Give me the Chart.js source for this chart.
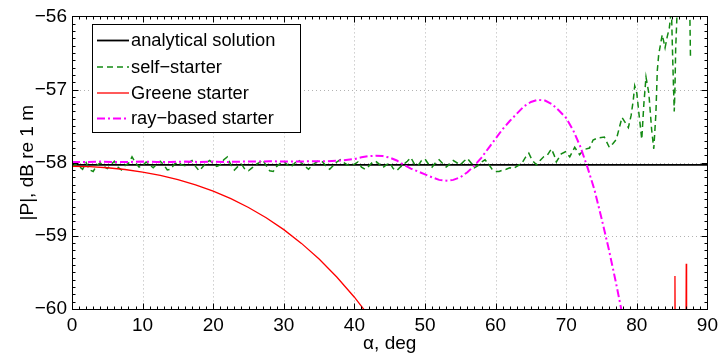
<!DOCTYPE html>
<html>
<head>
<meta charset="utf-8">
<script src="https://cdn.jsdelivr.net/npm/chart.js@4/dist/chart.umd.min.js"></script>
<style>
  html, body { margin: 0; padding: 0; background: #fff; }
  #wrap { width: 723px; height: 355px; }
</style>
</head>
<body>
<div id="wrap"><canvas id="chart" width="723" height="355"></canvas></div>
<script>
const FONT = '"Liberation Sans", Arial, Helvetica, sans-serif';

// axis ticks
const xTicks = [0, 10, 20, 30, 40, 50, 60, 70, 80, 90];
const yTicks = [-60, -59, -58, -57, -56];

// analytical solution (flat)
const analyticalX = [0, 90];
const analyticalY = [-58.03, -58.03];

// self-starter (noisy, blows up near grazing)
const selfX = [
  0, 0.5, 1, 1.5, 2, 2.5, 3, 3.5, 4, 4.5, 5, 5.5, 6, 6.5, 7, 7.5, 8, 8.5, 9, 9.5,
  10, 10.5, 11, 11.5, 12, 12.5, 13, 13.5, 14, 14.5, 15, 15.5, 16, 16.5, 17, 17.5, 18, 18.5, 19, 19.5,
  20, 20.5, 21, 21.5, 22, 22.5, 23, 23.5, 24, 24.5, 25, 25.5, 26, 26.5, 27, 27.5, 28, 28.5, 29, 29.5,
  30, 30.5, 31, 31.5, 32, 32.5, 33, 33.5, 34, 34.5, 35, 35.5, 36, 36.5, 37, 37.5, 38, 38.5, 39, 39.5,
  40, 40.5, 41, 41.5, 42, 42.5, 43, 43.5, 44, 44.5, 45, 45.5, 46, 46.5, 47, 47.5, 48, 48.5, 49, 49.5,
  50, 50.5, 51, 51.5, 52, 52.5, 53, 53.5, 54, 54.5, 55, 55.5, 56, 56.5, 57, 57.5, 58, 58.5, 59, 59.5,
  60, 60.5, 61, 61.5, 62, 62.5, 63, 63.7, 64.2, 64.7, 65.2, 65.8, 66.3, 66.8, 67.3, 67.9, 68.3, 68.6,
  69.3, 69.9, 70.5, 71.2, 71.9, 72.5, 73.3, 73.8, 74.5, 75.4, 76.1, 76.6, 77.1, 77.9, 78.8, 79.2,
  79.5, 79.7, 80.0, 80.3, 80.7, 81.0, 81.3, 81.7, 82.1, 82.4, 82.7, 82.9, 83.1, 83.6, 84.0, 84.3,
  84.6, 84.9, 85.1, 85.3, 85.4, 85.5, 85.7, 86.0, 86.5, 87.0, 87.5, 87.6
];
const selfY = [
  -58.06, -58.02, -58.05, -58.09, -58.00, -58.10, -58.12, -58.04, -58.00, -58.05,
  -58.08, -58.03, -57.98, -58.06, -58.10, -58.04, -58.01, -57.92, -58.00, -58.06,
  -58.04, -57.99, -58.03, -58.07, -58.02, -57.98, -58.03, -58.10, -58.09, -58.02,
  -57.99, -58.03, -58.04, -58.00, -57.97, -58.05, -58.11, -58.06, -58.00, -57.97,
  -58.01, -58.05, -58.03, -57.96, -57.92, -58.03, -58.10, -58.05, -58.02, -58.09,
  -58.11, -58.07, -58.03, -58.00, -57.96, -58.04, -58.11, -58.12, -58.05, -58.01,
  -57.98, -58.03, -58.06, -58.01, -57.96, -58.00, -58.05, -58.09, -58.04, -58.00,
  -57.97, -57.99, -58.05, -58.09, -58.04, -57.99, -57.96, -58.00, -58.03, -58.04,
  -58.02, -57.99, -58.06, -58.09, -58.05, -58.00, -57.98, -58.02, -58.07, -58.03,
  -58.00, -58.08, -58.11, -58.06, -58.02, -57.98, -57.93, -58.02, -58.04, -57.97,
  -57.95, -58.02, -58.06, -58.00, -57.96, -58.01, -58.06, -58.02, -57.97, -58.00,
  -58.03, -57.98, -57.94, -58.00, -58.07, -58.04, -57.99, -57.96, -58.02, -58.09,
  -58.12, -58.12, -58.10, -58.09, -58.07, -58.08, -58.05, -58.01, -57.93, -57.87,
  -57.97, -58.03, -57.97, -57.92, -57.90, -57.81, -57.90, -57.99,
  -57.88, -57.85, -57.92, -57.79, -57.89, -57.82, -57.80, -57.69, -57.66, -57.65,
  -57.79, -57.74, -57.68, -57.38, -57.52, -57.35,
  -57.14, -56.95, -57.05, -57.33, -57.68, -57.19, -56.83, -57.05, -57.55, -57.81,
  -57.33, -56.74, -56.52, -56.25, -56.43, -56.28,
  -56.16, -55.90, -56.65, -57.30, -57.00, -56.45, -55.95, -55.50, -55.40, -55.60, -55.90, -56.57
];

// Greene starter (falls off, plus two spikes near 85-87 deg)
const greeneX = [
  0, 2.5, 5, 7.5, 10, 12.5, 15, 17.5, 20, 22.5, 25, 27.5, 30, 32.5, 35, 37.5, 40, 42.5,
  45, 85.35, 85.4, 85.45, 86.95, 87.0, 87.05
];
const greeneY = [
  -58.05, -58.055, -58.069, -58.093, -58.128, -58.174, -58.232, -58.304, -58.39, -58.492,
  -58.612, -58.753, -58.915, -59.103, -59.317, -59.562, -59.839, -60.15,
  null, -60.5, -59.55, -60.5, -60.5, -59.38, -60.5
];

// ray-based starter
const rayX = [
  0, 2, 4, 6, 8, 10, 12, 14, 16, 18, 20, 22, 24, 26, 28, 30, 32, 34, 36, 38,
  40, 41, 42, 43, 44, 45, 46, 47, 48, 49, 50, 51, 52, 53, 54, 55, 56, 57, 58, 59,
  60, 61, 62, 63, 64, 65, 66, 67, 68, 69, 70, 71, 72, 73, 74, 75, 76, 77, 78
];
const rayY = [
  -57.99, -57.99, -57.985, -57.99, -57.99, -57.985, -57.99, -57.99, -57.985, -57.99,
  -57.985, -57.99, -57.985, -57.985, -57.98, -57.985, -57.985, -57.98, -57.98, -57.97,
  -57.95, -57.925, -57.91, -57.905, -57.91, -57.93, -57.97, -58.03, -58.08, -58.12,
  -58.16, -58.2, -58.235, -58.245, -58.235, -58.2, -58.13, -58.04, -57.93, -57.8,
  -57.67, -57.54, -57.43, -57.33, -57.23, -57.17, -57.14, -57.15, -57.2, -57.29,
  -57.39, -57.56, -57.78, -58.06, -58.37, -58.76, -59.17, -59.62, -60.1
];

const pts = (xs, ys) => xs.map((x, i) => ({ x: x, y: ys[i] }));

const datasets = [
  {
    label: 'analytical solution',
    data: pts(analyticalX, analyticalY),
    borderColor: '#000000',
    borderWidth: 1.8,
    order: 3,
  },
  {
    label: 'self\u2212starter',
    data: pts(selfX, selfY),
    borderColor: '#138a13',
    borderWidth: 1.5,
    borderDash: [6, 4],
    order: 2,
  },
  {
    label: 'Greene starter',
    data: pts(greeneX, greeneY),
    borderColor: '#ff0000',
    borderWidth: 1.3,
    order: 1,
  },
  {
    label: 'ray\u2212based starter',
    data: pts(rayX, rayY),
    borderColor: '#ff00ff',
    borderWidth: 2,
    borderDash: [8, 3, 2, 3],
    order: 0,
  },
];
datasets.forEach((d) => {
  d.pointRadius = 0;
  d.tension = 0;
  d.spanGaps = false;
  d.fill = false;
});

// dotted grid, box, inward ticks and the boxed legend, matlab style
const matlabAxes = {
  id: 'matlabAxes',
  beforeDatasetsDraw(chart) {
    const { ctx, chartArea: a, scales } = chart;
    ctx.save();
    ctx.strokeStyle = 'rgba(0,0,0,0.3)';
    ctx.lineWidth = 1;
    ctx.setLineDash([1, 3]);
    xTicks.slice(1, -1).forEach((v) => {
      const px = Math.round(scales.x.getPixelForValue(v)) + 0.5;
      ctx.beginPath();
      ctx.moveTo(px, a.top);
      ctx.lineTo(px, a.bottom);
      ctx.stroke();
    });
    yTicks.slice(1, -1).forEach((v) => {
      const py = Math.round(scales.y.getPixelForValue(v)) + 0.5;
      ctx.beginPath();
      ctx.moveTo(a.left, py);
      ctx.lineTo(a.right, py);
      ctx.stroke();
    });
    ctx.restore();
  },
  afterDraw(chart) {
    const { ctx, chartArea: a, scales } = chart;
    const L = Math.round(a.left) + 0.5, R = Math.round(a.right) + 0.5;
    const T = Math.round(a.top) + 0.5, B = Math.round(a.bottom) + 0.5;
    ctx.save();
    ctx.strokeStyle = '#000';
    ctx.lineWidth = 1;
    ctx.setLineDash([]);
    ctx.strokeRect(L, T, R - L, B - T);

    ctx.beginPath();
    // minor x ticks every degree, major every 10
    for (let v = 0; v <= 90; v++) {
      const px = Math.round(scales.x.getPixelForValue(v)) + 0.5;
      const len = v % 10 === 0 ? 6 : 3;
      ctx.moveTo(px, B); ctx.lineTo(px, B - len);
      ctx.moveTo(px, T); ctx.lineTo(px, T + len);
    }
    // minor y ticks every 0.1 dB
    for (let k = 0; k <= 40; k++) {
      const v = -60 + k / 10;
      const py = Math.round(scales.y.getPixelForValue(v)) + 0.5;
      const len = k % 10 === 0 ? 6 : 3;
      ctx.moveTo(L, py); ctx.lineTo(L + len, py);
      ctx.moveTo(R, py); ctx.lineTo(R - len, py);
    }
    ctx.stroke();

    // legend
    const bx = 92.5, by = 24.5, bw = 208, bh = 108;
    ctx.fillStyle = '#fff';
    ctx.fillRect(bx, by, bw, bh);
    ctx.strokeRect(bx, by, bw, bh);
    const rows = [40, 66.5, 92.5, 118];
    ctx.font = '18.3px ' + FONT;
    ctx.textBaseline = 'middle';
    ctx.textAlign = 'left';
    chart.data.datasets.forEach((d, i) => {
      const y = rows[i] + 0.5;
      ctx.save();
      ctx.strokeStyle = d.borderColor;
      ctx.lineWidth = d.borderWidth;
      ctx.setLineDash(d.borderDash || []);
      ctx.beginPath();
      ctx.moveTo(97, y);
      ctx.lineTo(129, y);
      ctx.stroke();
      ctx.restore();
      ctx.fillStyle = '#000';
      ctx.fillText(d.label, 131, rows[i] + 1);
    });
    ctx.restore();
  },
};

new Chart(document.getElementById('chart'), {
  type: 'line',
  data: { datasets: datasets },
  plugins: [matlabAxes],
  options: {
    responsive: false,
    animation: false,
    devicePixelRatio: 1,
    layout: { padding: { left: 0, top: 11, right: 11, bottom: 0 } },
    plugins: { legend: { display: false }, tooltip: { enabled: false } },
    scales: {
      x: {
        type: 'linear',
        min: 0,
        max: 90,
        afterBuildTicks: (s) => { s.ticks = xTicks.map((v) => ({ value: v })); },
        ticks: { color: '#000', font: { family: FONT, size: 19 }, padding: 5, maxRotation: 0 },
        grid: { display: false, drawTicks: false },
        border: { display: false },
        title: {
          display: true,
          text: '\u03b1, deg',
          color: '#000',
          font: { family: FONT, size: 19 },
          padding: { top: 0, bottom: 0 },
        },
        afterFit: (s) => { s.height = 46; },
      },
      y: {
        type: 'linear',
        min: -60,
        max: -56,
        afterBuildTicks: (s) => { s.ticks = yTicks.map((v) => ({ value: v })); },
        ticks: {
          color: '#000',
          font: { family: FONT, size: 19 },
          padding: 5,
          callback: (v) => (v < 0 ? '\u2212' : '') + Math.abs(v),
        },
        grid: { display: false, drawTicks: false },
        border: { display: false },
        title: {
          display: true,
          text: '|P|, dB re 1 m',
          color: '#000',
          font: { family: FONT, size: 19 },
          padding: { top: 16, bottom: 0 },
        },
        afterFit: (s) => { s.width = 72; },
      },
    },
  },
});
</script>
</body>
</html>
